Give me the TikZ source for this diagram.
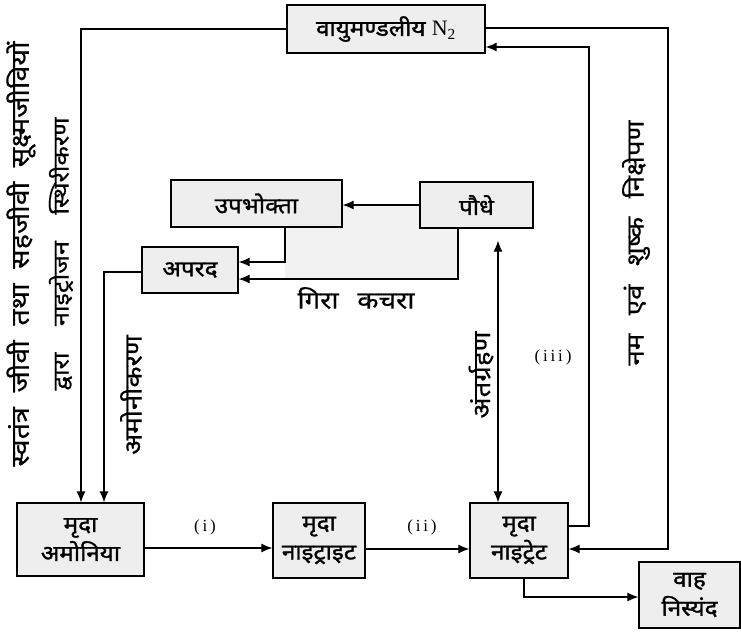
\documentclass[tikz,border=0pt]{standalone}
\usepackage{fontspec}
\setmainfont{Liberation Serif}
\newfontfamily\deva[Script=Devanagari, FakeStretch=1.15, FakeBold=0.6]{Noto Sans}
\newfontfamily\devab[Script=Devanagari, FakeStretch=1.1, FakeBold=1.4]{Noto Sans}
\usetikzlibrary{arrows.meta}
\tikzset{
  box/.style={draw, line width=1.3pt, fill=gray!13, inner sep=0pt, align=center, font=\devab\fontsize{22}{29}\selectfont},
  conn/.style={line width=1.1pt},
  arr/.style={conn, -{Latex[length=11pt,width=9pt]}},
  arrr/.style={conn, {Latex[length=11pt,width=9pt]}-{Latex[length=11pt,width=9pt]}},
  lbl/.style={font=\deva\fontsize{24}{26}\selectfont, inner sep=0pt},
  rom/.style={font=\fontsize{17}{19}\selectfont, inner sep=0pt}
}
\begin{document}
\begin{tikzpicture}[x=1pt,y=-1pt]
\useasboundingbox (0,0) rectangle (741,637);
\fill[gray!10] (285,204) rectangle (458,279);
\node[box, minimum width=198pt, minimum height=48pt] (n2) at (386,29) {वायुमण्डलीय {\rmfamily N\textsubscript{2}}};
\node[box, minimum width=171pt, minimum height=47pt] (upb) at (256.5,203.5) {उपभोक्ता};
\node[box, minimum width=113pt, minimum height=46pt] (paudhe) at (476.5,205) {पौधे};
\node[box, minimum width=96pt, minimum height=46pt] (apard) at (190,270) {अपरद};
\node[box, minimum width=127pt, minimum height=73pt] (amonia) at (80.5,539.5) {मृदा\\अमोनिया};
\node[box, minimum width=92pt, minimum height=75pt] (nitrite) at (319,540.5) {मृदा\\नाइट्राइट};
\node[box, minimum width=98pt, minimum height=75pt] (nitrate) at (519,540.5) {मृदा\\नाइट्रेट};
\node[box, minimum width=101pt, minimum height=66pt] (wah) at (689.5,595) {वाह\\निस्यंद};

% connectors
\draw[arr] (n2.west) -| (81,0 |- amonia.north);
\draw[arr] (apard.west |- 0,272) -| (104,0 |- amonia.north);
\draw[arr] (paudhe.west) -- (paudhe.west -| upb.east);
\draw[arr] (285,0 |- upb.south) |- (apard.east |- 0,262);
\draw[arr] (458,0 |- paudhe.south) |- (apard.east |- 0,279);
\draw[arrr, shorten <=12pt] (paudhe.south -| 498,0) -- (nitrate.north -| 498,0);
\draw[arr] (nitrate.east |- 0,526) -| (589,47) -- (n2.east |- 0,47);
\draw[arr] (n2.east |- 0,28) -| (668,549) -- (nitrate.east |- 0,549);
\draw[arr] (amonia.east |- 0,548) -- (nitrite.west |- 0,548);
\draw[arr] (nitrite.east |- 0,549) -- (nitrate.west |- 0,549);
\draw[arr] (524,0 |- nitrate.south) |- (wah.west |- 0,597);

% labels
\node[lbl] (gk) at (356,298) {\makebox[117pt][s]{गिरा कचरा}};
\node[rom] (l1) at (205,527) {(\,i\,)};
\node[rom] (l2) at (422,527) {(\,i\,i\,)};
\node[rom] (l3) at (553,357) {(\,i\,i\,i\,)};
\node[lbl, rotate=90, font=\deva\fontsize{25}{27}\selectfont] (t1) at (21,254) {\makebox[425pt][s]{स्वतंत्र जीवी तथा सहजीवी सूक्ष्मजीवियों}};
\node[lbl, rotate=90, font=\deva\fontsize{22}{24}\selectfont] (t2) at (61,254) {\makebox[273pt][s]{द्वारा नाइट्रोजन स्थिरीकरण}};
\node[lbl, rotate=90] (t3) at (131,395) {अमोनीकरण};
\node[lbl, rotate=90] (t4) at (481,375) {अंतर्ग्रहण};
\node[lbl, rotate=90] (t5) at (636,243) {\makebox[245pt][s]{नम एवं शुष्क निक्षेपण}};
\end{tikzpicture}
\end{document}
